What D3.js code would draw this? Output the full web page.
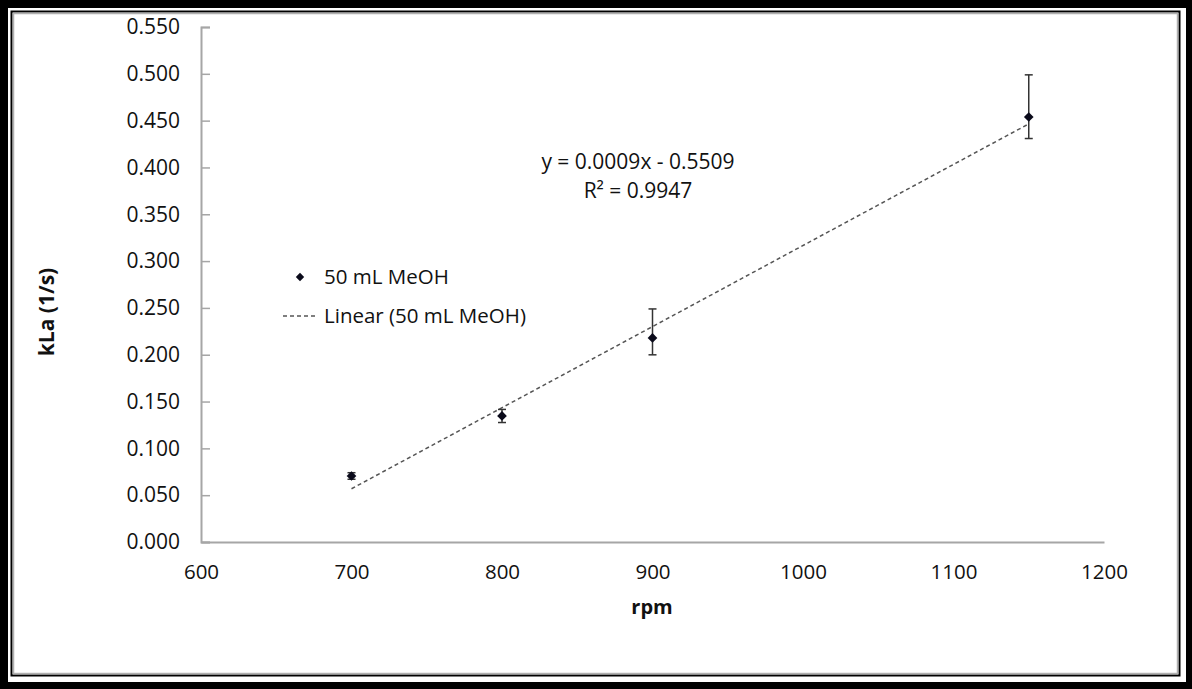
<!DOCTYPE html>
<html>
<head>
<meta charset="utf-8">
<script src="https://cdn.jsdelivr.net/npm/d3@7"></script>
<style>
  html, body { margin: 0; padding: 0; background: #fff; }
  svg { display: block; }
  text { font-family: "Open Sans", Lato, sans-serif; fill: #111; }
</style>
</head>
<body>
<svg id="chart" width="1192" height="689"></svg>
<script>
// Mixing speed (rpm) and measured kLa for 50 mL MeOH
const rpm = [700, 800, 900, 1150];
const kla = [0.0705, 0.1346, 0.2179, 0.4539];
const errPlus = [0.0035, 0.007, 0.031, 0.045];
const errMinus = [0.0035, 0.007, 0.018, 0.023];

const xTicks = [600, 700, 800, 900, 1000, 1100, 1200];
const yTicks = [0, 0.05, 0.1, 0.15, 0.2, 0.25, 0.3, 0.35, 0.4, 0.45, 0.5, 0.55];

const seriesName = "50 mL MeOH";
const trendName = "Linear (50 mL MeOH)";
const eqText = "y = 0.0009x - 0.5509";
const r2Text = "R\u00b2 = 0.9947";

const svg = d3.select("#chart");
const W = 1192, H = 689;

// Frame: heavy black edge with inner double rule
svg.append("rect").attr("x", 0).attr("y", 0).attr("width", W).attr("height", H).attr("fill", "#000");
svg.append("rect").attr("x", 8).attr("y", 8).attr("width", W - 14).attr("height", H - 15).attr("fill", "#fff");
svg.append("rect").attr("x", 11.5).attr("y", 11.5).attr("width", W - 24).attr("height", H - 25)
  .attr("fill", "none").attr("stroke", "#000").attr("stroke-width", 2);
svg.append("rect").attr("x", 13.5).attr("y", 13.5).attr("width", W - 28).attr("height", H - 29)
  .attr("fill", "#fff").attr("stroke", "#b0b0b0").attr("stroke-width", 1.5);

const x = d3.scaleLinear().domain([600, 1200]).range([201, 1104]);
const y = d3.scaleLinear().domain([0, 0.55]).range([542, 27]);

// Y axis: inward ticks
const yAxis = svg.append("g").attr("transform", `translate(${x(600)},0)`)
  .call(d3.axisRight(y).tickValues(yTicks).tickSize(9).tickFormat(d3.format(".3f")));
yAxis.select(".domain").attr("stroke", "#a6a6a6").attr("stroke-width", 2);
yAxis.selectAll(".tick line").attr("stroke", "#a6a6a6").attr("stroke-width", 1.5);
yAxis.selectAll(".tick text").attr("x", -21).attr("text-anchor", "end")
  .attr("font-size", 21).attr("fill", "#111");

// X axis
const xAxis = svg.append("g").attr("transform", `translate(0,${y(0)})`)
  .call(d3.axisBottom(x).tickValues(xTicks).tickSize(0).tickFormat(d3.format("d")));
xAxis.select(".domain").attr("stroke", "#a6a6a6").attr("stroke-width", 2);
xAxis.selectAll(".tick text").attr("y", 22).attr("font-size", 20.5).attr("fill", "#111");

// Least-squares trend line over the measured points
const mx = d3.mean(rpm), my = d3.mean(kla);
const slope = d3.sum(rpm, (v, i) => (v - mx) * (kla[i] - my)) / d3.sum(rpm, v => (v - mx) ** 2);
const icpt = my - slope * mx;
const xr = d3.extent(rpm);
svg.append("line")
  .attr("x1", x(xr[0])).attr("y1", y(slope * xr[0] + icpt))
  .attr("x2", x(xr[1])).attr("y2", y(slope * xr[1] + icpt))
  .attr("stroke", "#555").attr("stroke-width", 1.5).attr("stroke-dasharray", "4,3");

// Error bars
const eb = svg.append("g").attr("stroke", "#333").attr("stroke-width", 1.5);
rpm.forEach((r, i) => {
  const cx = x(r), top = y(kla[i] + errPlus[i]), bot = y(kla[i] - errMinus[i]);
  eb.append("line").attr("x1", cx).attr("x2", cx).attr("y1", top).attr("y2", bot);
  eb.append("line").attr("x1", cx - 4).attr("x2", cx + 4).attr("y1", top).attr("y2", top);
  eb.append("line").attr("x1", cx - 4).attr("x2", cx + 4).attr("y1", bot).attr("y2", bot);
});

// Diamond markers
const diamond = d3.symbol().type(d3.symbolDiamond2).size(60);
svg.append("g").selectAll("path").data(rpm).join("path")
  .attr("d", diamond)
  .attr("transform", (r, i) => `translate(${x(r)},${y(kla[i])})`)
  .attr("fill", "#0a0a1a");

// Regression annotation
svg.append("text").attr("x", 638).attr("y", 169).attr("text-anchor", "middle")
  .attr("font-size", 21).text(eqText);
svg.append("text").attr("x", 638).attr("y", 198).attr("text-anchor", "middle")
  .attr("font-size", 21).text(r2Text);

// Legend
svg.append("path").attr("d", d3.symbol().type(d3.symbolDiamond2).size(45))
  .attr("transform", "translate(300,277)").attr("fill", "#0a0a1a");
svg.append("text").attr("x", 324).attr("y", 284).attr("font-size", 20.5).text(seriesName);
svg.append("line").attr("x1", 283).attr("x2", 318).attr("y1", 316).attr("y2", 316)
  .attr("stroke", "#555").attr("stroke-width", 1.5).attr("stroke-dasharray", "4,3");
svg.append("text").attr("x", 324).attr("y", 323).attr("font-size", 20.5).text(trendName);

// Axis titles
svg.append("text").attr("x", 652).attr("y", 614).attr("text-anchor", "middle")
  .attr("font-size", 20).attr("font-weight", "bold").text("rpm");
svg.append("text").attr("transform", "translate(54,312) rotate(-90)").attr("text-anchor", "middle")
  .attr("font-size", 21).attr("font-weight", "bold").text("kLa (1/s)");
</script>
</body>
</html>
